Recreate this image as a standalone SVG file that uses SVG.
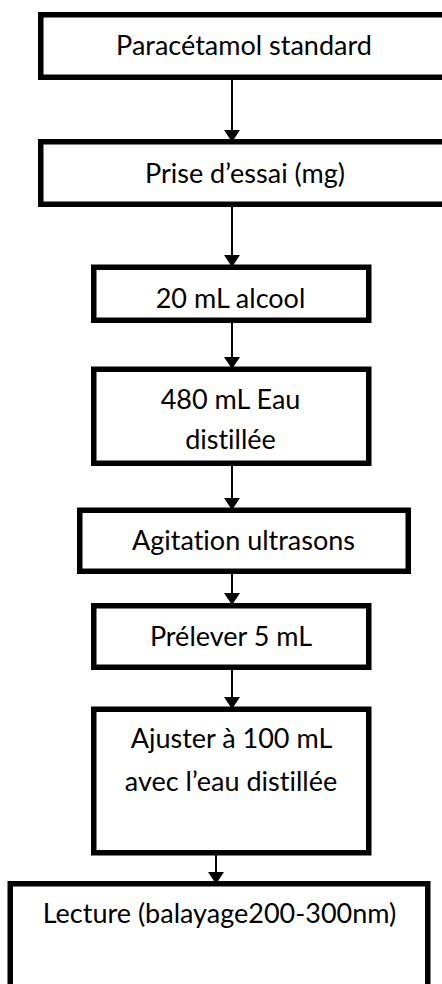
<svg xmlns="http://www.w3.org/2000/svg" width="442" height="984" viewBox="0 0 442 984">
  <style>
    .box { fill: #ffffff; stroke: #000000; stroke-width: 5.5; }
    .lbl { font-family: Lato, "Open Sans", "Liberation Sans", sans-serif; font-size: 27px; fill: #000000; text-anchor: middle; font-variant-ligatures: none; font-feature-settings: "liga" 0, "clig" 0; }
    .link { stroke: #000000; stroke-width: 2; fill: none; marker-end: url(#head); }
  </style>
  <defs>
    <marker id="head" viewBox="0 0 12 16" refX="12" refY="8" markerWidth="12" markerHeight="16" markerUnits="userSpaceOnUse" orient="auto">
      <path d="M0,0 L12,8 L0,16 Z" fill="#000000"/>
    </marker>
  </defs>
  <rect width="442" height="984" fill="#ffffff"/>

  <g id="connectors">
    <line class="link" x1="232" y1="80" x2="232" y2="142"/>
    <line class="link" x1="232" y1="207" x2="232" y2="267"/>
    <line class="link" x1="232" y1="323" x2="232" y2="369"/>
    <line class="link" x1="232" y1="466" x2="232" y2="510"/>
    <line class="link" x1="232" y1="567" x2="232" y2="605"/>
    <line class="link" x1="232" y1="670" x2="232" y2="709"/>
    <line class="link" x1="216" y1="855" x2="216" y2="884"/>
  </g>

  <g id="paracetamol">
    <rect class="box" x="40.75" y="14.75" width="420" height="62.5"/>
    <text class="lbl" x="244" y="55">Paracétamol standard</text>
  </g>
  <g id="prise-essai">
    <rect class="box" x="40.75" y="141.75" width="420" height="62.5"/>
    <text class="lbl" x="245" y="183">Prise d’essai (mg)</text>
  </g>
  <g id="alcool">
    <rect class="box" x="93.75" y="267.25" width="275" height="53"/>
    <text class="lbl" x="230.5" y="308">20 mL alcool</text>
  </g>
  <g id="eau">
    <rect class="box" x="93.75" y="369.25" width="275" height="94"/>
    <text class="lbl" x="230.5" y="409">480 mL Eau</text>
    <text class="lbl" x="230.5" y="449">distillée</text>
  </g>
  <g id="agitation">
    <rect class="box" x="79.75" y="510.25" width="328.5" height="61"/>
    <text class="lbl" x="243.5" y="550">Agitation ultrasons</text>
  </g>
  <g id="prelever">
    <rect class="box" x="93.75" y="605.75" width="275" height="61.5"/>
    <text class="lbl" x="231" y="645.5">Prélever 5 mL</text>
  </g>
  <g id="ajuster">
    <rect class="box" x="93.75" y="709.25" width="275" height="143.5"/>
    <text class="lbl" x="231.5" y="748">Ajuster à 100 mL</text>
    <text class="lbl" x="231" y="790.5">avec l’eau distillée</text>
  </g>
  <g id="lecture">
    <rect class="box" x="10.25" y="883.75" width="417.5" height="120"/>
    <text class="lbl" x="219.5" y="923">Lecture (balayage200-300nm)</text>
  </g>
</svg>
